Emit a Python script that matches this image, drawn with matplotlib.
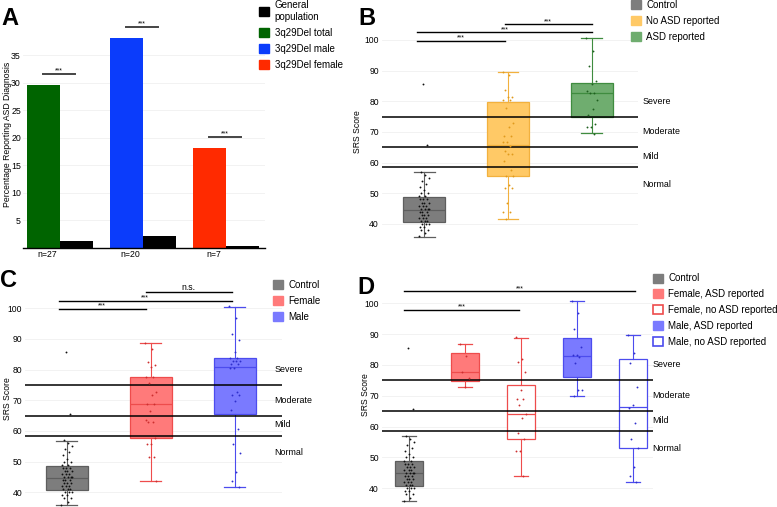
import numpy as np
import matplotlib
matplotlib.use('Agg')
import matplotlib.pyplot as plt
from matplotlib.patches import Patch

plt.rcParams['font.family'] = ['Liberation Sans', 'DejaVu Sans']

W, H = 777, 507

# ---------------- Panel A data ----------------
a_labels = ['3q29Del total', '3q29Del male', '3q29Del female']
a_n_labels = ['n=27', 'n=20', 'n=7']
a_del_pct = [29.6, 38.0, 18.2]
a_gen_pct = [1.3, 2.2, 0.4]
a_sig = ['***', '***', '***']
a_yticks = [5, 10, 15, 20, 25, 30, 35]

# ---------------- SRS data (panels B-D) ----------------
srs_yticks = [40, 50, 60, 70, 80, 90, 100]
srs_cutoffs = [75, 65, 58.5]
band_labels = ['Severe', 'Moderate', 'Mild', 'Normal']
band_label_y = [80, 70, 62, 53]

control_pts = [36, 37, 38, 38, 39, 39, 40, 40, 40, 41, 41, 41, 42, 42, 42, 43, 43, 43,
               44, 44, 44, 45, 45, 45, 45, 46, 46, 46, 47, 47, 47, 48, 48, 48, 49, 49,
               50, 50, 51, 52, 53, 54, 55, 56, 57, 65.6, 85.6]
no_asd_pts = [89.6, 88.5, 83.6, 81.5, 81.5, 80.4, 80.4, 77.7, 72.8, 71.7, 68.7, 68.7,
              66.6, 66.6, 65.5, 63.8, 62.7, 62.7, 60.5, 57.6, 55.7, 55.7, 52.7, 51.6,
              51.6, 46.7, 44.0, 44.0, 41.6]
asd_pts = [100.5, 96.4, 91.6, 86.6, 85.6, 83.4, 82.6, 82.6, 80.4, 77.5, 75.5, 72.6,
           71.5, 71.5, 69.3]
female_pts = [88.6, 86.6, 82.6, 81.5, 80.8, 77.7, 77.7, 75.5, 72.6, 71.7, 68.8, 68.8,
              66.6, 63.6, 62.8, 62.8, 57.6, 55.6, 55.6, 51.6, 51.6, 43.7]
male_pts = [100.7, 96.7, 91.6, 89.7, 85.6, 83.7, 83.7, 82.8, 82.8, 82.8, 81.7, 81.7,
            80.6, 80.6, 72.8, 71.7, 71.7, 69.8, 66.8, 60.7, 55.7, 52.7, 46.7, 43.7, 41.8]
female_asd_pts = [86.8, 82.9, 77.8, 75.7, 73.0]
female_no_pts = [89.0, 81.8, 80.9, 77.8, 71.9, 69.0, 69.0, 67.0, 64.0, 62.9, 58.0,
                 56.0, 52.1, 52.1, 44.1]
male_asd_pts = [100.8, 96.8, 91.7, 85.7, 83.2, 83.2, 82.7, 80.7, 71.9, 71.9, 69.9]
male_no_pts = [89.7, 83.8, 80.7, 73.0, 67.0, 66.1, 61.1, 56.0, 53.0, 47.0, 44.0, 42.0]

# box statistics: q1, median, q3, whisker low, whisker high
b_groups = ['Control', 'No ASD reported', 'ASD reported']
b_q1 = [40.6, 55.5, 74.8]
b_med = [44.7, 65.6, 82.6]
b_q3 = [48.7, 79.6, 85.8]
b_lo = [35.8, 41.6, 69.5]
b_hi = [56.8, 89.5, 100.5]

c_groups = ['Control', 'Female', 'Male']
c_q1 = [40.6, 57.6, 65.6]
c_med = [44.7, 68.7, 80.8]
c_q3 = [48.7, 77.6, 83.7]
c_lo = [35.8, 43.7, 41.6]
c_hi = [56.8, 88.6, 100.5]

d_groups = ['Control', 'Female, ASD reported', 'Female, no ASD reported',
            'Male, ASD reported', 'Male, no ASD reported']
d_q1 = [40.8, 74.8, 56.0, 76.2, 53.1]
d_med = [44.9, 77.8, 64.0, 82.9, 66.4]
d_q3 = [48.9, 83.8, 73.4, 88.7, 81.8]
d_lo = [35.9, 72.9, 44.1, 69.8, 42.0]
d_hi = [56.9, 86.8, 88.9, 100.7, 89.7]

b_sig = [(-0.08, 0.96, 99.7, '***'), (-0.08, 2.0, 102.4, '***'), (0.96, 2.0, 105.1, '***')]
c_sig = [(-0.1, 0.94, 99.8, '***'), (-0.1, 1.96, 102.5, '***'), (0.94, 1.96, 105.4, 'n.s.')]
d_sig = [(-0.1, 1.97, 97.8, '***'), (-0.1, 4.04, 103.9, '***')]

# colours
GRAY_F, GRAY_E, GRAY_P = '#7d7d7d', '#5e5e5e', '#111111'
YEL_F, YEL_E, YEL_P = '#ffc966', '#f2b13e', '#e09a1c'
GRN_F, GRN_E, GRN_P = '#6fad6f', '#3f8c3f', '#1f5f1f'
RED_F, RED_E, RED_P = '#ff7a7a', '#ee4c4c', '#cc2f2f'
BLU_F, BLU_E, BLU_P = '#7a7aff', '#4c4cee', '#2f2fcc'

fig = plt.figure(figsize=(W / 100, H / 100), dpi=100)


def axes_px(l, t, r, b):
    return fig.add_axes([l / W, 1 - b / H, (r - l) / W, (b - t) / H])


def add_legend(handles, labels, left_px, top_px):
    fig.legend(handles, labels, loc='upper left',
               bbox_to_anchor=(left_px / W, 1 - top_px / H), frameon=False,
               fontsize=7, handlelength=1.05, handleheight=1.05, handletextpad=0.55,
               labelspacing=0.6, borderpad=0, borderaxespad=0)


# ---------------- Panel A ----------------
axA = axes_px(23, 20, 265, 248)
xa = np.arange(len(a_del_pct))
axA.bar(xa - 0.2, a_del_pct, width=0.4, color=['#006400', '#0b3cfb', '#ff2a00'], zorder=2)
axA.bar(xa + 0.2, a_gen_pct, width=0.4, color='black', zorder=2)
for i in range(len(xa)):
    ytop = max(a_del_pct[i], a_gen_pct[i]) + 2
    axA.plot([xa[i] - 0.2, xa[i] + 0.18], [ytop, ytop], color='#444444', lw=1.4, zorder=3)
    axA.text(xa[i] - 0.01, ytop + 0.3, a_sig[i], ha='center', va='baseline', fontsize=5)
axA.set_xlim(-0.446, 2.47)
axA.set_ylim(0, (248 - 20) / 5.514)
axA.set_yticks(a_yticks)
axA.set_xticks(xa - 0.15)
axA.set_xticklabels(a_n_labels)
axA.tick_params(length=0, labelsize=6.3, pad=1.5)
axA.grid(axis='y', color='#f0f0f0', lw=0.6, zorder=0)
for s in ['left', 'right', 'top']:
    axA.spines[s].set_visible(False)
axA.spines['bottom'].set_color('black')
axA.spines['bottom'].set_linewidth(1.0)
axA.set_ylabel('Percentage Reporting ASD Diagnosis', fontsize=6.2, va='center')
axA.yaxis.set_label_coords((7.5 - 23) / 242, 0.5)
add_legend([Patch(color='black'), Patch(color='#006400'), Patch(color='#0b3cfb'),
            Patch(color='#ff2a00')],
           ['General\npopulation'] + a_labels, 259, 0.5)


# ---------------- SRS panel helper ----------------
def jitter(n, width):
    return ((np.arange(n) * 0.618034) % 1.0 - 0.5) * width


def srs_panel(ax, q1, med, q3, lo, hi, pts, faces, edges, pcols, xlim, ylim,
              spacing_px, sigs, label_x, ylabel_x):
    stats = [dict(q1=a, med=b, q3=c, whislo=d, whishi=e, fliers=[])
             for a, b, c, d, e in zip(q1, med, q3, lo, hi)]
    pos = np.arange(len(stats))
    for c in srs_cutoffs:
        ax.axhline(c, color='black', lw=1.1, zorder=3)
    bp = ax.bxp(stats, positions=pos, widths=0.5, capwidths=0.25, patch_artist=True,
                showfliers=False, manage_ticks=False, zorder=2)
    for i in range(len(stats)):
        bp['boxes'][i].set_facecolor(faces[i])
        bp['boxes'][i].set_edgecolor(edges[i])
        bp['boxes'][i].set_linewidth(0.9)
        bp['medians'][i].set_color(edges[i])
        bp['medians'][i].set_linewidth(0.9)
        for k in (2 * i, 2 * i + 1):
            bp['whiskers'][k].set_color(edges[i])
            bp['whiskers'][k].set_linewidth(0.8)
            bp['caps'][k].set_color(edges[i])
            bp['caps'][k].set_linewidth(0.9)
    jw = 11.0 / spacing_px
    for i, p in enumerate(pts):
        ax.scatter(pos[i] + jitter(len(p), jw), p, s=1.8, color=pcols[i],
                   linewidths=0, zorder=4)
    for x1, x2, y, lab in sigs:
        ax.plot([x1, x2], [y, y], color='black', lw=1.0, zorder=3, clip_on=False)
        ax.text((x1 + x2) / 2, y + 0.4, lab, ha='center', va='baseline',
                fontsize=5 if lab == '***' else 6.3, clip_on=False)
    for lab, y in zip(band_labels, band_label_y):
        ax.text(label_x, y, lab, ha='left', va='center', fontsize=6.4, clip_on=False)
    ax.set_xlim(*xlim)
    ax.set_ylim(*ylim)
    ax.set_yticks(srs_yticks)
    ax.set_xticks([])
    ax.tick_params(length=0, labelsize=6.2, pad=2)
    ax.grid(axis='y', color='#f0f0f0', lw=0.6, zorder=0)
    for s in ax.spines.values():
        s.set_visible(False)
    ax.set_ylabel('SRS Score', fontsize=6.2, va='center')
    ax.yaxis.set_label_coords(ylabel_x, 0.5)


# ---------------- Panel B ----------------
axB = axes_px(381.7, 224 - 66 * 3.07, 638, 224 + 6 * 3.07)
srs_panel(axB, b_q1, b_med, b_q3, b_lo, b_hi, [control_pts, no_asd_pts, asd_pts],
          [GRAY_F, YEL_F, GRN_F], [GRAY_E, YEL_E, GRN_E], [GRAY_P, YEL_P, GRN_P],
          (-0.504, 2.548), (34, 106), 84, b_sig, 2.60, (357.5 - 381.7) / 256.3)
add_legend([Patch(color=GRAY_F), Patch(color=YEL_F), Patch(color=GRN_F)],
           b_groups, 630.7, 0)

# ---------------- Panel C ----------------
axC = axes_px(25, 492.3 - 66 * 3.067, 281.7, 506.5)
srs_panel(axC, c_q1, c_med, c_q3, c_lo, c_hi, [control_pts, female_pts, male_pts],
          [GRAY_F, RED_F, BLU_F], [GRAY_E, RED_E, BLU_E], [GRAY_P, RED_P, BLU_P],
          (-0.5, 2.556), (40 - (506.5 - 492.3) / 3.067, 106), 84, c_sig, 2.468,
          (7.5 - 25) / 256.7)
add_legend([Patch(color=GRAY_F), Patch(color=RED_F), Patch(color=BLU_F)],
           c_groups, 272.7, 280.2)

# ---------------- Panel D ----------------
axD = axes_px(381.7, 488.3 - 66 * 3.083, 653, 488.3 + 5 * 3.083)
srs_panel(axD, d_q1, d_med, d_q3, d_lo, d_hi,
          [control_pts, female_asd_pts, female_no_pts, male_asd_pts, male_no_pts],
          [GRAY_F, RED_F, 'white', BLU_F, 'white'],
          [GRAY_E, RED_E, RED_E, BLU_E, BLU_E],
          [GRAY_P, RED_P, RED_P, BLU_P, BLU_P],
          (-0.49, 4.357), (35, 106), 56, d_sig, 4.352, (365 - 381.7) / 271.3)
add_legend([Patch(color=GRAY_F),
            Patch(facecolor=RED_F, edgecolor=RED_F),
            Patch(facecolor='white', edgecolor=RED_E, lw=1.2),
            Patch(facecolor=BLU_F, edgecolor=BLU_F),
            Patch(facecolor='white', edgecolor=BLU_E, lw=1.2)],
           d_groups, 652.7, 273.4)

# panel letters
for lab, x, y in [('A', 1, 25), ('B', 358, 25), ('C', 0, 286.7), ('D', 357, 294.3)]:
    fig.text(x / W, 1 - y / H, lab, fontsize=17, fontweight='bold', va='baseline', ha='left')

fig.savefig('out.png', dpi=100)
